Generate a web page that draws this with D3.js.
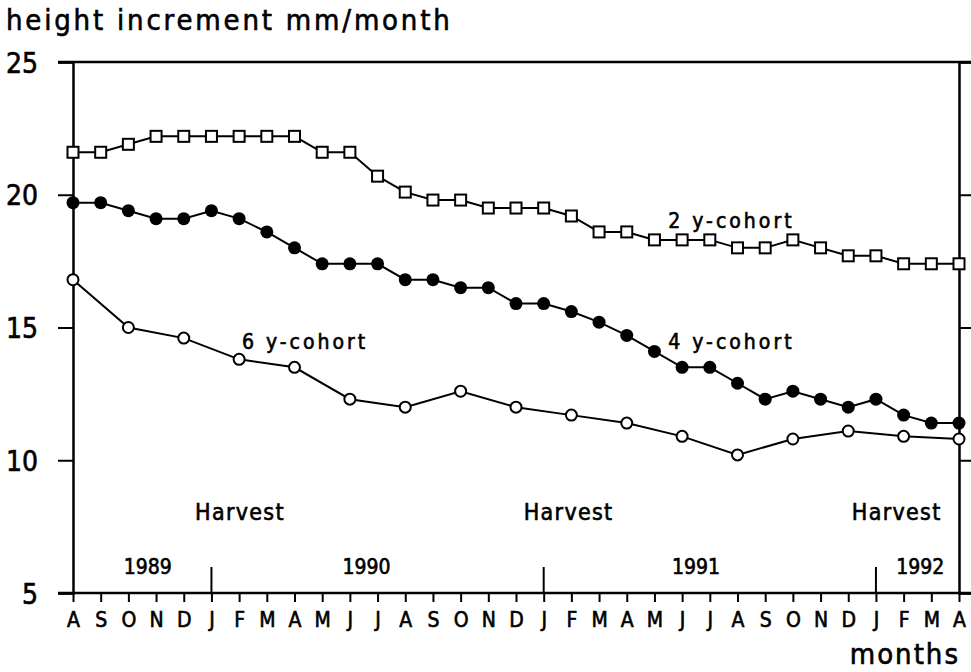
<!DOCTYPE html>
<html>
<head>
<meta charset="utf-8">
<script src="https://cdn.jsdelivr.net/npm/d3@7"></script>
<style>
  body { margin: 0; background: #fff; }
  svg text { font-family: "DejaVu Sans Condensed", "DejaVu Sans", sans-serif; fill: #000; stroke: #000; stroke-width: 0.6px; }
</style>
</head>
<body>
<div id="chart"></div>
<script>
// months from Aug 1989 to Apr 1992
var months = ['A','S','O','N','D',
  'J','F','M','A','M','J','J','A','S','O','N','D',
  'J','F','M','A','M','J','J','A','S','O','N','D',
  'J','F','M','A'];

var cohort2 = [21.6, 21.6, 21.9, 22.2, 22.2,
  22.2, 22.2, 22.2, 22.2, 21.6, 21.6, 20.7, 20.1, 19.8, 19.8, 19.5, 19.5,
  19.5, 19.2, 18.6, 18.6, 18.3, 18.3, 18.3, 18.0, 18.0, 18.3, 18.0, 17.7,
  17.7, 17.4, 17.4, 17.4];

var cohort4 = [19.7, 19.7, 19.4, 19.1, 19.1,
  19.4, 19.1, 18.6, 18.0, 17.4, 17.4, 17.4, 16.8, 16.8, 16.5, 16.5, 15.9,
  15.9, 15.6, 15.2, 14.7, 14.1, 13.5, 13.5, 12.9, 12.3, 12.6, 12.3, 12.0,
  12.3, 11.7, 11.4, 11.4];

// 6 y-cohort measured every second month
var cohort6 = [16.8, null, 15.0, null, 14.6,
  null, 13.8, null, 13.5, null, 12.3, null, 12.0, null, 12.6, null, 12.0,
  null, 11.7, null, 11.4, null, 10.9, null, 10.2, null, 10.8, null, 11.1,
  null, 10.9, null, 10.8];

var yTicks = [5, 10, 15, 20, 25];
var years = ['1989', '1990', '1991', '1992'];
var yearBreaks = [5, 17, 29];
var harvestLabel = 'Harvest';

var width = 971, height = 672;
var plotLeft = 73, plotRight = 959, plotTop = 62, plotBottom = 593;

var svg = d3.select('#chart').append('svg')
    .attr('width', width).attr('height', height);

var x = d3.scaleLinear().domain([0, months.length - 1]).range([plotLeft, plotRight]);
var y = d3.scaleLinear().domain([5, 25]).range([plotBottom, plotTop]);

// frame: top line
svg.append('line')
   .attr('x1', plotLeft - 15).attr('x2', plotRight + 12)
   .attr('y1', y(25)).attr('y2', y(25))
   .attr('stroke', '#000').attr('stroke-width', 2.5);

// y axis left
var gy = svg.append('g')
   .attr('transform', 'translate(' + plotLeft + ',0)')
   .call(d3.axisLeft(y).tickValues(yTicks).tickSize(15).tickPadding(20));
gy.selectAll('text').style('font-size', '28px').attr('dy', '0.36em');

// y axis right (ticks only)
var gr = svg.append('g')
   .attr('transform', 'translate(' + plotRight + ',0)')
   .call(d3.axisRight(y).tickValues(yTicks).tickSize(12).tickFormat(''));

// x axis
var gx = svg.append('g')
   .attr('transform', 'translate(0,' + plotBottom + ')')
   .call(d3.axisBottom(x).tickValues(d3.range(months.length))
         .tickFormat(function (i) { return months[i]; })
         .tickSize(9).tickPadding(10));
gx.selectAll('text').style('font-size', '21px');

[gy, gr, gx].forEach(function (g) {
    g.select('.domain').attr('stroke-width', 2.5);
    g.selectAll('.tick line').attr('stroke-width', 2);
});
gx.select('.domain').attr('d', 'M' + (plotLeft - 15) + ',0H' + (plotRight + 12));

// year separators
svg.selectAll('.yearbreak')
   .data(yearBreaks)
   .enter()
   .append('line')
   .attr('x1', function (d) { return x(d); })
   .attr('x2', function (d) { return x(d); })
   .attr('y1', plotBottom).attr('y2', plotBottom - 26)
   .attr('stroke', '#000').attr('stroke-width', 2);

// year labels
var yearPos = [2.7, 10.6, 22.5, 30.6];
svg.selectAll('.year')
   .data(years)
   .enter()
   .append('text')
   .attr('x', function (d, i) { return x(yearPos[i]); })
   .attr('y', 574)
   .attr('text-anchor', 'middle')
   .style('font-size', '21px')
   .text(function (d) { return d; });

// harvest labels
var harvestPos = [6.03, 17.9, 29.75];
svg.selectAll('.harvest')
   .data(harvestPos)
   .enter()
   .append('text')
   .attr('x', function (d) { return x(d); })
   .attr('y', 520)
   .attr('text-anchor', 'middle')
   .style('font-size', '23px')
   .style('letter-spacing', '1.3px')
   .text(harvestLabel);

// series
function points(values) {
    return values.map(function (v, i) { return { i: i, v: v }; })
                 .filter(function (d) { return d.v !== null; });
}

var line = d3.line()
    .x(function (d) { return x(d.i); })
    .y(function (d) { return y(d.v); });

[cohort6, cohort4, cohort2].forEach(function (vals) {
    svg.append('path')
       .datum(points(vals))
       .attr('d', line)
       .attr('fill', 'none')
       .attr('stroke', '#000')
       .attr('stroke-width', 2);
});

svg.selectAll('.c6')
   .data(points(cohort6))
   .enter()
   .append('circle')
   .attr('cx', function (d) { return x(d.i); })
   .attr('cy', function (d) { return y(d.v); })
   .attr('r', 5.5)
   .attr('fill', '#fff').attr('stroke', '#000').attr('stroke-width', 2);

svg.selectAll('.c4')
   .data(points(cohort4))
   .enter()
   .append('circle')
   .attr('cx', function (d) { return x(d.i); })
   .attr('cy', function (d) { return y(d.v); })
   .attr('r', 6.5)
   .attr('fill', '#000');

svg.selectAll('.c2')
   .data(points(cohort2))
   .enter()
   .append('rect')
   .attr('x', function (d) { return x(d.i) - 5.5; })
   .attr('y', function (d) { return y(d.v) - 5.5; })
   .attr('width', 11).attr('height', 11)
   .attr('fill', '#fff').attr('stroke', '#000').attr('stroke-width', 2);

// series labels
svg.append('text').attr('x', x(21.5)).attr('y', y(18.75))
   .style('font-size', '21px').style('letter-spacing', '3px').text('2 y-cohort');
svg.append('text').attr('x', x(21.5)).attr('y', y(14.2))
   .style('font-size', '21px').style('letter-spacing', '3px').text('4 y-cohort');
svg.append('text').attr('x', x(6.1)).attr('y', y(14.2))
   .style('font-size', '21px').style('letter-spacing', '3px').text('6 y-cohort');

// titles
svg.append('text').attr('x', 6).attr('y', 30)
   .style('font-size', '29px').style('letter-spacing', '2.8px')
   .text('height increment mm/month');
svg.append('text').attr('x', 960).attr('y', 664)
   .attr('text-anchor', 'end')
   .style('font-size', '29px').style('letter-spacing', '2px')
   .text('months');
</script>
</body>
</html>
